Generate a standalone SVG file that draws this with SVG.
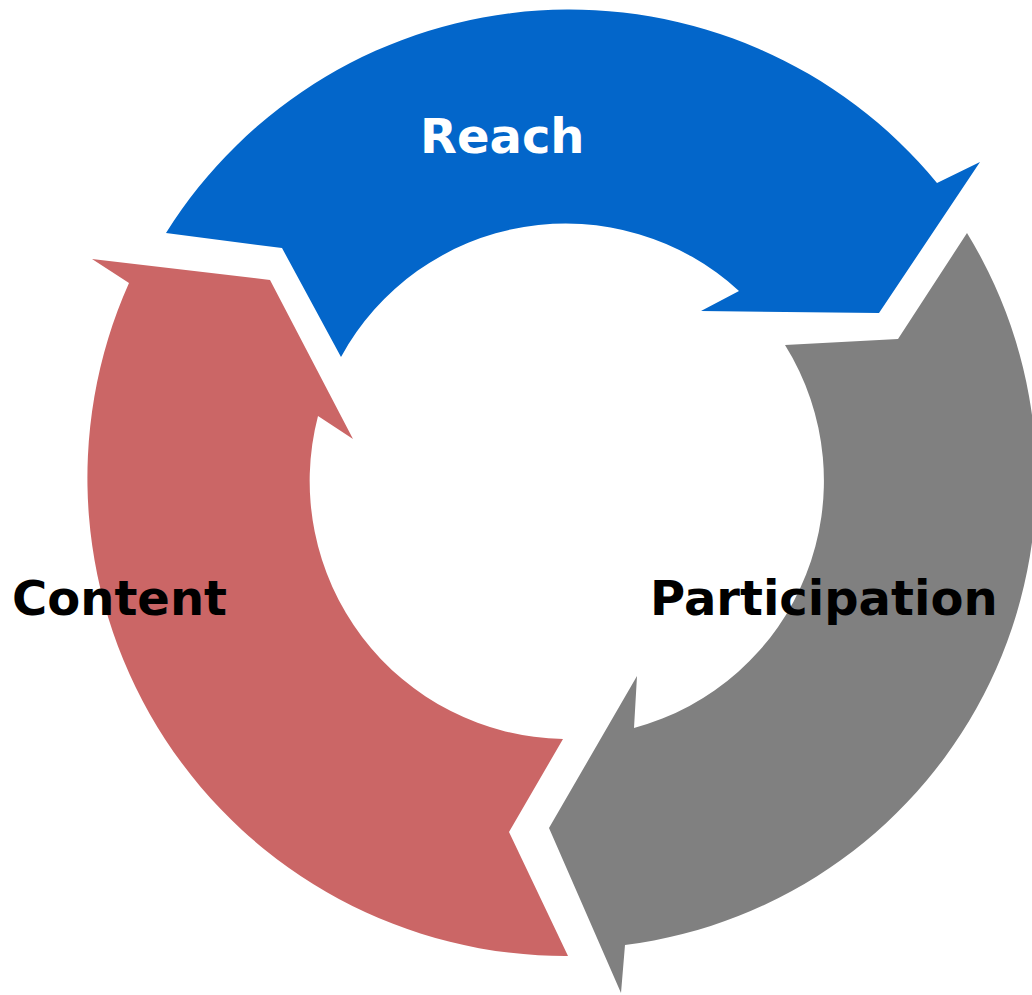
<svg xmlns="http://www.w3.org/2000/svg" width="1032" height="995" viewBox="0 0 1032 995">
<style>
.lbl{font-family:"DejaVu Sans",sans-serif;font-weight:bold;font-size:48px}
.blue{fill:#0366CA}
.red{fill:#CB6666}
.grey{fill:#808080}
</style>
<rect width="1032" height="995" fill="#fff"/>
<g id="connectors"></g>
<g id="reach">
<path class="blue" d="M166,233 A476,476 0 0 1 937,183 L980,162 L879,313 L701,311 L739,291 A256,256 0 0 0 341,357 L282,248 Z"/>
<text class="lbl" x="420" y="153" fill="#fff">Reach</text>
</g>
<g id="participation">
<path class="grey" d="M967,233 A470,470 0 0 1 625,945 L621,993 L549,828 L637,676 L634,728 A256,256 0 0 0 785,345 L898,339 Z"/>
<text class="lbl" x="650" y="615" fill="#000">Participation</text>
</g>
<g id="content">
<path class="red" d="M568,956 A478,478 0 0 1 129,283 L92,259 L270,280 L353,439 L318,416 A258,258 0 0 0 563,739 L509,832 Z"/>
<text class="lbl" x="12" y="615" fill="#000">Content</text>
</g>
</svg>
